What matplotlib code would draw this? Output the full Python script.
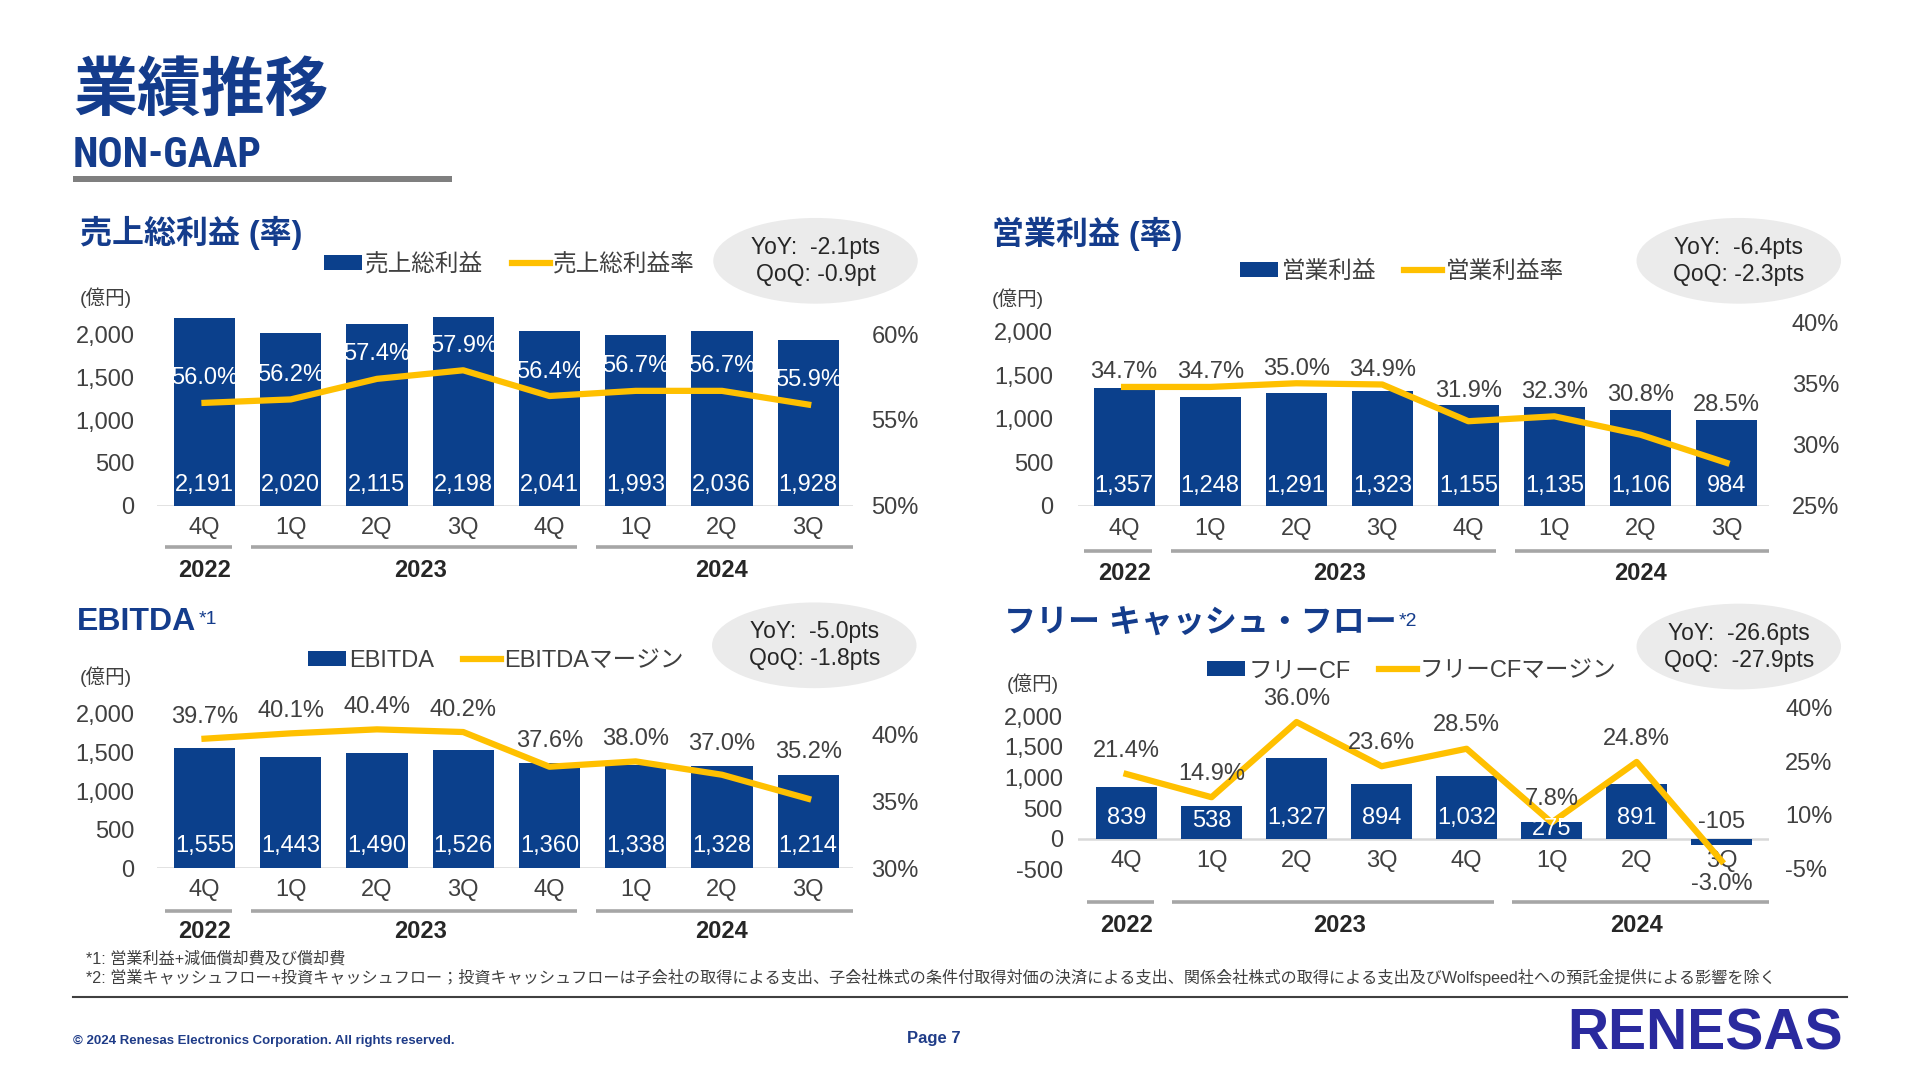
import matplotlib
matplotlib.use('Agg')
import matplotlib.pyplot as plt
from matplotlib import font_manager
from matplotlib.patches import Ellipse, Patch
from matplotlib.lines import Line2D

plt.rcParams['font.family'] = ['Liberation Sans', 'Noto Sans CJK JP', 'DejaVu Sans']

# data (億円 / %)
quarters = ['4Q', '1Q', '2Q', '3Q', '4Q', '1Q', '2Q', '3Q']
years = ['2022', '2023', '2024']
year_first = [0, 1, 5]
year_last = [0, 4, 7]

gross_profit = [2191, 2020, 2115, 2198, 2041, 1993, 2036, 1928]
gross_margin = [56.0, 56.2, 57.4, 57.9, 56.4, 56.7, 56.7, 55.9]
op_income = [1357, 1248, 1291, 1323, 1155, 1135, 1106, 984]
op_margin = [34.7, 34.7, 35.0, 34.9, 31.9, 32.3, 30.8, 28.5]
ebitda = [1555, 1443, 1490, 1526, 1360, 1338, 1328, 1214]
ebitda_margin = [39.7, 40.1, 40.4, 40.2, 37.6, 38.0, 37.0, 35.2]
fcf = [839, 538, 1327, 894, 1032, 275, 891, -105]
fcf_margin = [21.4, 14.9, 36.0, 23.6, 28.5, 7.8, 24.8, -3.0]

NAVY = '#0B408C'
YELLOW = '#FFC000'
HEAD = '#143C8C'
TXT = '#404040'
GRAY_LINE = '#A6A6A6'

# narrow face for the NON-GAAP subtitle if one is installed
installed = {f.name for f in font_manager.fontManager.ttflist}
narrow = None
for cand in ['Liberation Sans Narrow', 'Roboto Condensed', 'Open Sans Condensed', 'DejaVu Sans Condensed']:
    if cand in installed:
        narrow = cand
        break

# layout is measured on a 1568x882 copy of the slide
W, H = 1568, 882
SC = 1920 / W


def fx(x):
    return x / W


def fy(y):
    return 1 - y / H


fig = plt.figure(figsize=(19.2, 10.8), dpi=100)


def make_panel(box, left_map, right_map, bar0, bar7):
    x0, x1, yb, yt = box
    ax = fig.add_axes([fx(x0), fy(yb), (x1 - x0) / W, (yb - yt) / H])
    ax2 = ax.twinx()
    for a, m in ((ax, left_map), (ax2, right_map)):
        (pa, va), (pb, vb) = m
        k = (vb - va) / (pa - pb)
        a.set_ylim(va + (pa - yb) * k, va + (pa - yt) * k)
    s = (bar7 - bar0) / 7
    ax.set_xlim((x0 - bar0) / s, (x1 - bar0) / s)
    for a in (ax, ax2):
        for sp in a.spines.values():
            sp.set_visible(False)
        a.set_xticks([])
    return ax, ax2


def draw_panel(p):
    box = p['box']
    x0, x1, yb, yt = box
    ax, ax2 = make_panel(box, p['left_map'], p['right_map'], p['bar0'], p['bar7'])
    xs = list(range(len(quarters)))
    vals, pcts = p['vals'], p['pcts']

    ax.bar(xs, vals, width=0.71, color=NAVY, zorder=2)
    ax.axhline(0, color='#D9D9D9', lw=1.8, zorder=1)
    ax2.plot(xs, pcts, color=YELLOW, lw=4.5, solid_joinstyle='round', zorder=3)

    ax.set_yticks(p['left_ticks'])
    ax.set_yticklabels([f'{v:,}' for v in p['left_ticks']])
    ax.tick_params(axis='y', length=0, pad=p['lpad'], labelsize=17, labelcolor=TXT)
    ax2.set_yticks(p['right_ticks'])
    ax2.set_yticklabels([f'{v}%' for v in p['right_ticks']])
    ax2.tick_params(axis='y', length=0, pad=p['rpad'], labelsize=17, labelcolor=TXT)

    def afrac(ypx):
        return (yb - ypx) / (yb - yt)

    xt = ax.get_xaxis_transform()
    for i, q in enumerate(quarters):
        ax.text(i, afrac(p['q_y']), q, transform=xt, ha='center', va='center',
                fontsize=17, color=TXT, clip_on=False)
    xmax = ax.get_xlim()[1]
    for g, yr in enumerate(years):
        a, b = year_first[g], year_last[g]
        end = xmax if g == len(years) - 1 else b + 0.32
        ax.plot([a - 0.46, end], [afrac(p['yl_y'])] * 2, transform=xt, color=GRAY_LINE,
                lw=2.6, clip_on=False, solid_capstyle='butt')
        ax.text((a + b) / 2, afrac(p['yr_y']), yr, transform=xt, ha='center', va='center',
                fontsize=17, fontweight='bold', color='#262626', clip_on=False)

    # value labels in / near bars
    inv = fig.transFigure.inverted()
    for i, v in enumerate(vals):
        zx, zy = ax.transData.transform((i, 0))
        tx, ty = ax.transData.transform((i, v))
        if v >= 0:
            off = min(p['val_off'] * SC, (ty - zy) / 2 + 1)
            fxy = inv.transform((zx, zy + off))
            fig.text(fxy[0], fxy[1], f'{v:,}', ha='center', va='center', fontsize=17,
                     color='white', zorder=5)
        else:
            fxy = inv.transform((zx, zy + 14 * SC))
            fig.text(fxy[0], fxy[1], f'{v:,}', ha='center', va='center', fontsize=17,
                     color=TXT, zorder=5)

    # margin labels
    for i, (v, m) in enumerate(zip(vals, pcts)):
        px, py = ax2.transData.transform((i, m))
        _, by = ax.transData.transform((i, max(v, 0)))
        if m < 0:
            fxy = inv.transform((px, py - p['pct_off'] * SC))
        else:
            top = max(py, by) if p['above_bar'] else py
            fxy = inv.transform((px, top + p['pct_off'] * SC))
        fig.text(fxy[0], fxy[1], f'{m:.1f}%', ha='center', va='center', fontsize=17,
                 color=p['pct_color'], zorder=5)

    # legend
    handles = [Patch(facecolor=NAVY, edgecolor='none'),
               Line2D([], [], color=YELLOW, lw=4.5)]
    ax2.legend(handles, p['legend'], loc='center', ncol=2, frameon=False, fontsize=17,
               labelcolor=TXT, handlelength=1.6, handleheight=0.6, handletextpad=0.15,
               columnspacing=1.2, bbox_to_anchor=(fx(p['leg_xy'][0]), fy(p['leg_xy'][1])),
               bbox_transform=fig.transFigure)

    # YoY / QoQ bubble
    cx, cy = p['bub_xy']
    fig.add_artist(Ellipse((fx(cx), fy(cy)), width=167 / W, height=70 / H,
                           transform=fig.transFigure, facecolor='#EBEBEB', edgecolor='none'))
    fig.text(fx(cx), fy(cy - 11), p['bubble'][0], ha='center', va='center', fontsize=16.5, color='#262626')
    fig.text(fx(cx), fy(cy + 11), p['bubble'][1], ha='center', va='center', fontsize=16.5, color='#262626')

    # panel heading and unit
    t = fig.text(fx(p['title_xy'][0]), fy(p['title_xy'][1]), p['title'], ha='left', va='center',
                 fontsize=23, fontweight='bold', color=HEAD)
    if p.get('sup'):
        fig.canvas.draw()
        bb = t.get_window_extent()
        sx, sy = inv.transform((bb.x1 + 2, bb.y1 - 4))
        fig.text(sx, sy, p['sup'], ha='left', va='top', fontsize=14, color=HEAD)
    fig.text(fx(p['unit_xy'][0]), fy(p['unit_xy'][1]), '(億円)', ha='left', va='center',
             fontsize=14, color=TXT)


panels = [
    dict(box=(128, 697, 413, 250), left_map=((413, 0), (273, 2000)), right_map=((413, 50), (273, 60)),
         bar0=167, bar7=660, vals=gross_profit, pcts=gross_margin,
         left_ticks=[0, 500, 1000, 1500, 2000], right_ticks=[50, 55, 60], lpad=16, rpad=13,
         q_y=431, yl_y=447, yr_y=466, val_off=17, pct_off=20, above_bar=False, pct_color='white',
         legend=['売上総利益', '売上総利益率'], leg_xy=(416, 216), bub_xy=(666, 213),
         bubble=['YoY:  -2.1pts', 'QoQ: -0.9pt'], title='売上総利益 (率)', title_xy=(65, 190),
         unit_xy=(65, 243)),
    dict(box=(880, 1445, 413, 255), left_map=((413, 0), (271, 2000)), right_map=((413, 25), (263, 40)),
         bar0=918, bar7=1410, vals=op_income, pcts=op_margin,
         left_ticks=[0, 500, 1000, 1500, 2000], right_ticks=[25, 30, 35, 40], lpad=17.5, rpad=16,
         q_y=432, yl_y=450, yr_y=468, val_off=16, pct_off=12, above_bar=True, pct_color=TXT,
         legend=['営業利益', '営業利益率'], leg_xy=(1145, 222), bub_xy=(1420, 213),
         bubble=['YoY:  -6.4pts', 'QoQ: -2.3pts'], title='営業利益 (率)', title_xy=(810, 191),
         unit_xy=(810, 244)),
    dict(box=(128, 697, 709, 575), left_map=((709, 0), (583, 2000)), right_map=((709, 30), (600, 40)),
         bar0=167, bar7=660, vals=ebitda, pcts=ebitda_margin,
         left_ticks=[0, 500, 1000, 1500, 2000], right_ticks=[30, 35, 40], lpad=16, rpad=13,
         q_y=727, yl_y=744, yr_y=761, val_off=18, pct_off=18, above_bar=True, pct_color=TXT,
         legend=['EBITDA', 'EBITDAマージン'], leg_xy=(405, 540), bub_xy=(665, 527),
         bubble=['YoY:  -5.0pts', 'QoQ: -1.8pts'], title='EBITDA', sup='*1', title_xy=(63, 508),
         unit_xy=(65, 553)),
    dict(box=(880, 1445, 712, 570), left_map=((685, 0), (585, 2000)), right_map=((709, -5), (578, 40)),
         bar0=920, bar7=1406, vals=fcf, pcts=fcf_margin,
         left_ticks=[-500, 0, 500, 1000, 1500, 2000], right_ticks=[-5, 10, 25, 40], lpad=10.5, rpad=11.5,
         q_y=703, yl_y=737, yr_y=756, val_off=17, pct_off=19, above_bar=False, pct_color=TXT,
         legend=['フリーCF', 'フリーCFマージン'], leg_xy=(1153, 548), bub_xy=(1420, 528),
         bubble=['YoY:  -26.6pts', 'QoQ:  -27.9pts'], title='フリー キャッシュ・フロー', sup='*2',
         title_xy=(820, 510), unit_xy=(822, 558)),
]

for p in panels:
    draw_panel(p)

# page header
fig.text(fx(60), fy(75), '業績推移', ha='left', va='center', fontsize=46, fontweight='bold', color=HEAD)
if narrow:
    fig.text(fx(59), fy(127), 'NON-GAAP', ha='left', va='center', fontsize=30, fontweight='bold',
             family=[narrow, 'Liberation Sans'], color=HEAD)
else:
    fig.text(fx(59), fy(127), 'NON-GAAP', ha='left', va='center', fontsize=24.5, fontweight='bold',
             color=HEAD)
fig.add_artist(plt.Rectangle((fx(60), fy(149)), (369 - 60) / W, 5 / H, transform=fig.transFigure,
                             facecolor='#7F7F7F', edgecolor='none'))

# footnotes
fig.text(fx(70), fy(783), '*1: 営業利益+減価償却費及び償却費', ha='left', va='center', fontsize=11.6, color=TXT)
fig.text(fx(70), fy(798), '*2: 営業キャッシュフロー+投資キャッシュフロー；投資キャッシュフローは子会社の取得による支出、'
         '子会社株式の条件付取得対価の決済による支出、関係会社株式の取得による支出及びWolfspeed社への預託金提供による影響を除く',
         ha='left', va='center', fontsize=11.6, color=TXT)
fig.add_artist(Line2D([fx(60), fx(1508)], [fy(814), fy(814)], transform=fig.transFigure,
                      color='#404040', lw=1.5))

# footer
fig.text(fx(60), fy(850), '© 2024 Renesas Electronics Corporation. All rights reserved.', ha='left',
         va='center', fontsize=9.5, fontweight='bold', color='#1F3C88')
fig.text(fx(763), fy(848), 'Page 7', ha='center', va='center', fontsize=12, fontweight='bold', color='#1F3C88')
fig.text(fx(1505), fy(845), 'RENESAS', ha='right', va='center', fontsize=41, fontweight='bold',
         color='#2A2A9E')

fig.savefig('out.png', dpi=100)
